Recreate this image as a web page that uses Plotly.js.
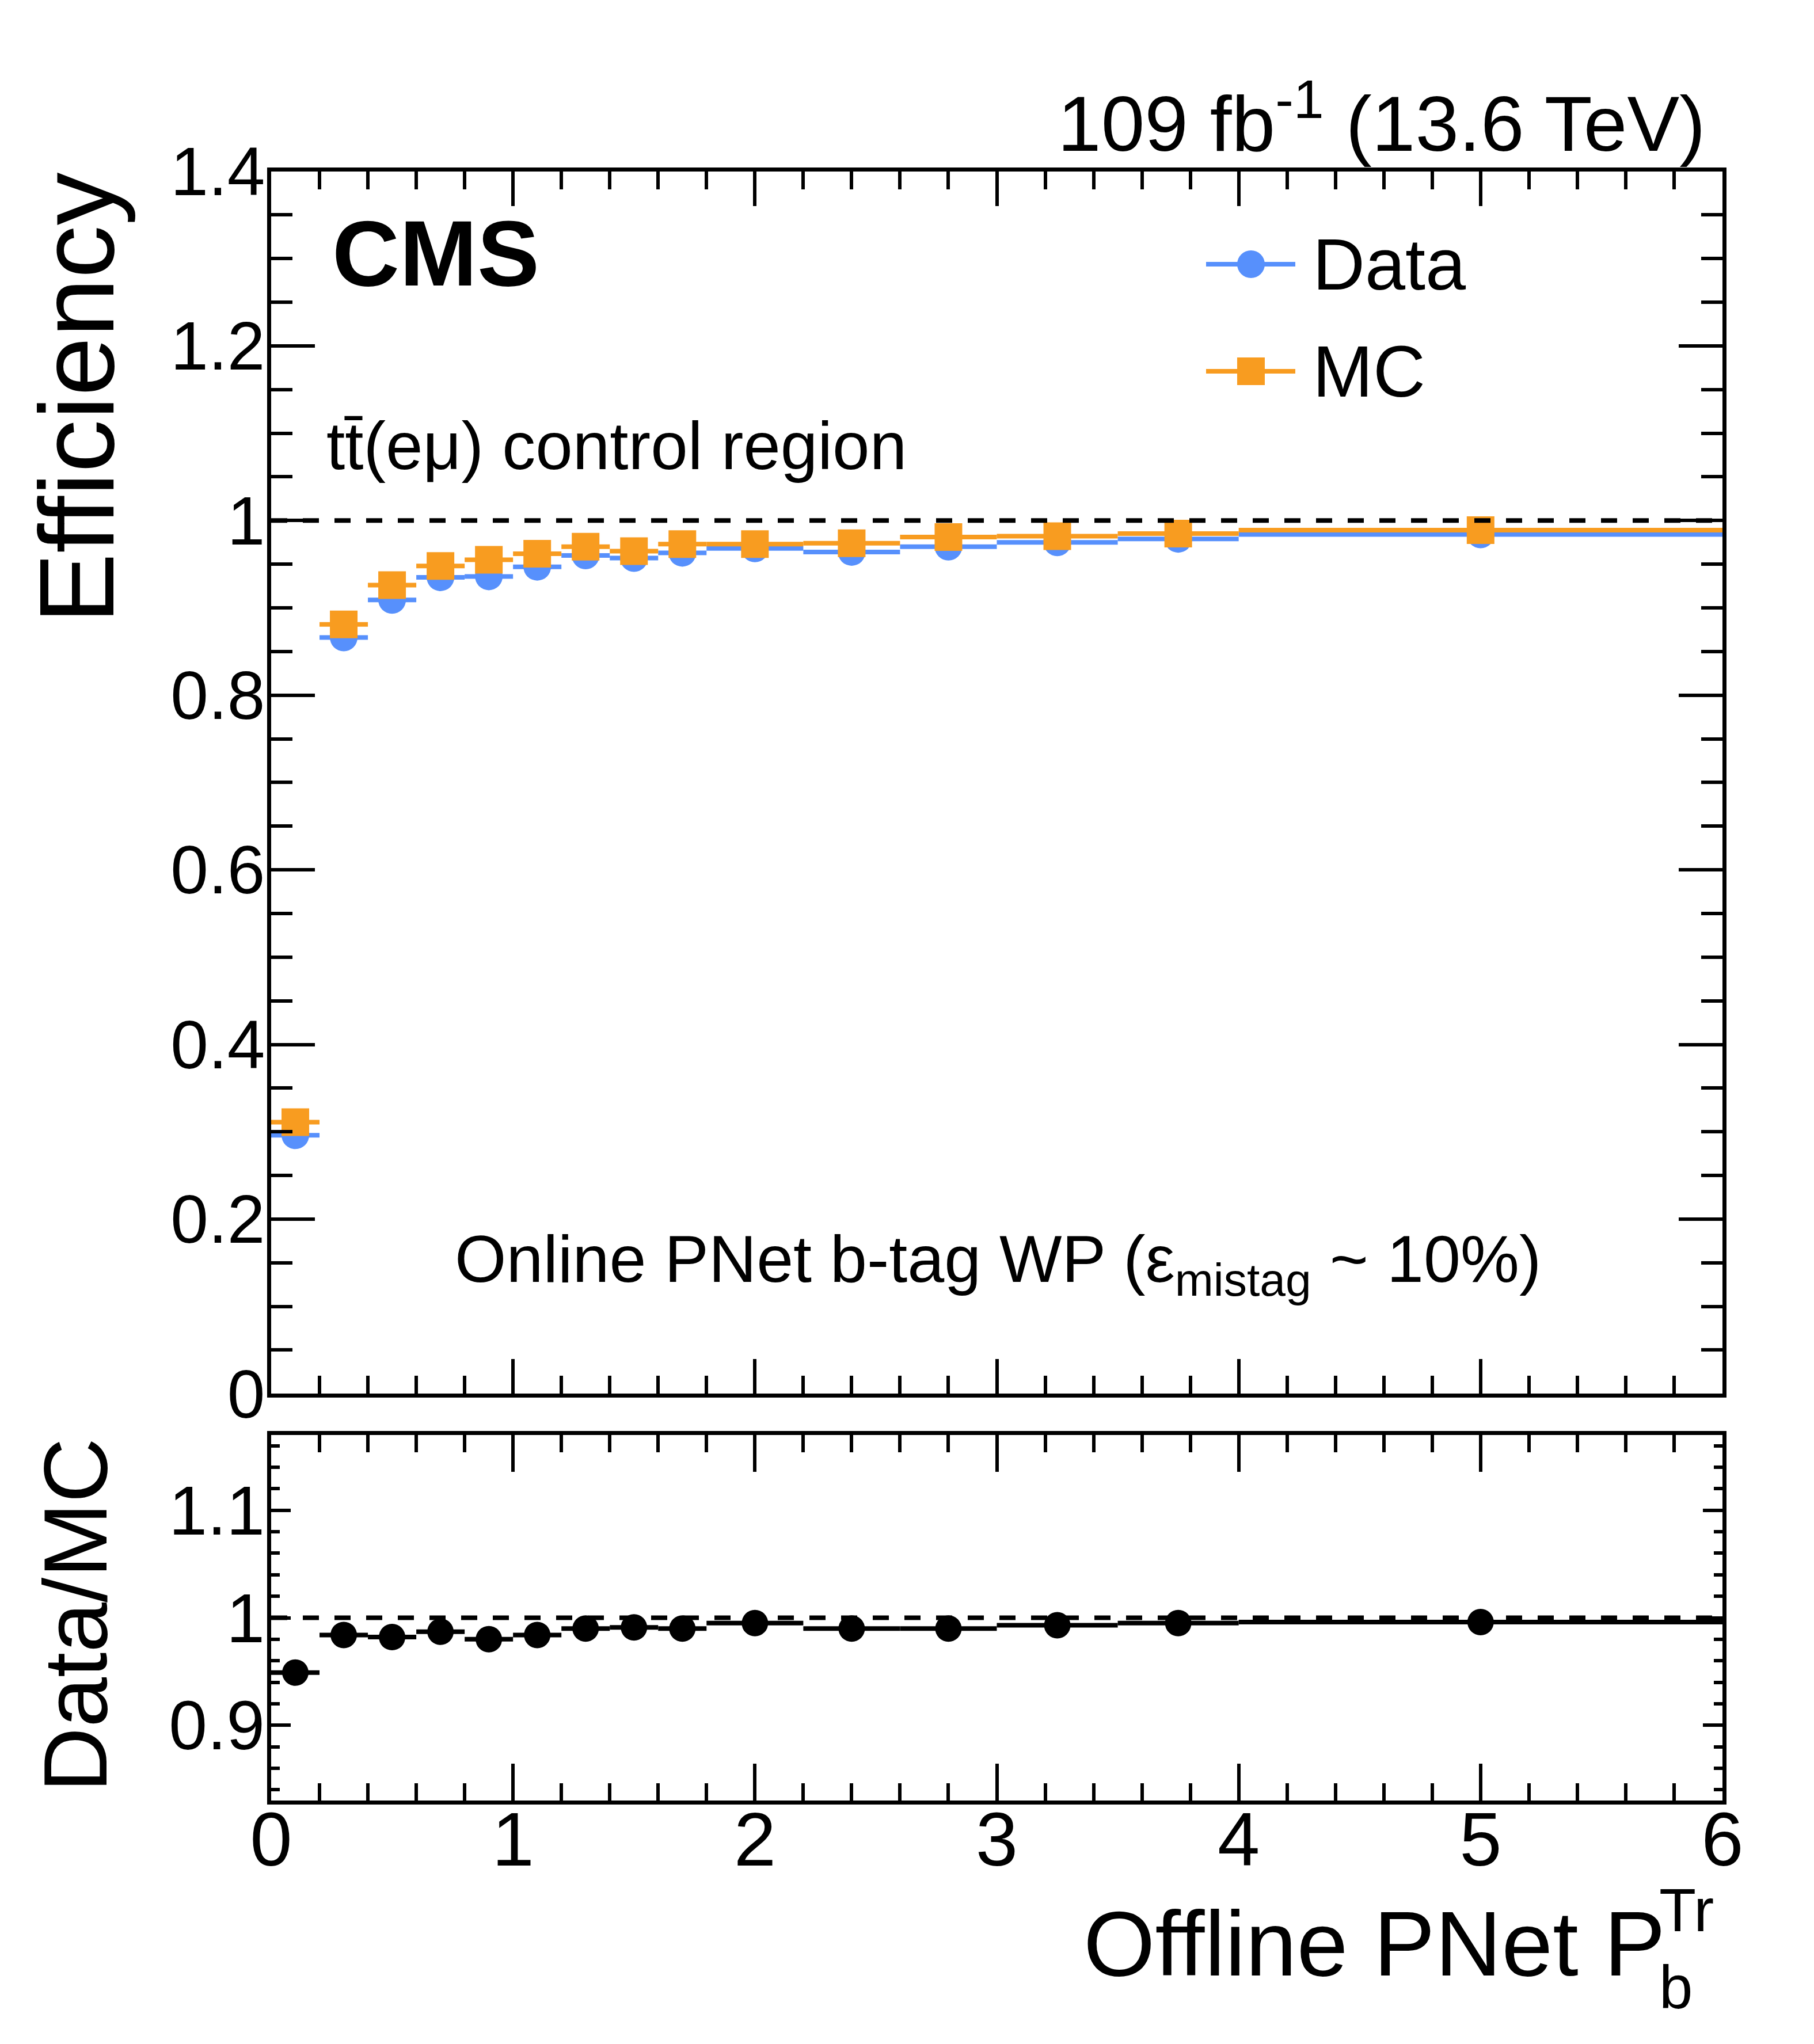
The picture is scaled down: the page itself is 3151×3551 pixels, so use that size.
<!DOCTYPE html>
<html>
<head>
<meta charset="utf-8">
<script src="https://cdn.plot.ly/plotly-3.0.1.min.js"></script>
<style>
  html, body { margin: 0; padding: 0; background: #ffffff; }
  #chart { width: 3151px; height: 3551px; }
</style>
</head>
<body>
<div id="chart"></div>
<script>
// bin edges of the offline PNet score (x axis)
const binEdges = [0, 0.2, 0.4, 0.6, 0.8, 1.0, 1.2, 1.4, 1.6, 1.8, 2.2, 2.6, 3.0, 3.5, 4.0, 6.0];

// efficiencies per bin
const effData = [0.296, 0.866, 0.909, 0.935, 0.936, 0.947, 0.960, 0.957, 0.963, 0.968, 0.964, 0.970, 0.975, 0.979, 0.984];
const effMC   = [0.311, 0.881, 0.926, 0.948, 0.955, 0.962, 0.970, 0.965, 0.973, 0.973, 0.974, 0.981, 0.982, 0.985, 0.989];

// data / MC scale factors
const ratio = [0.949, 0.984, 0.982, 0.987, 0.980, 0.984, 0.990, 0.991, 0.990, 0.995, 0.990, 0.990, 0.993, 0.995, 0.996];

const xTickVals = [0, 1, 2, 3, 4, 5, 6];
const ratioTickVals = [0.9, 1, 1.1];
const refLine = 1;

const W = 3151, H = 3551;
const px = v => v / W;          // pixel -> paper x
const py = v => 1 - v / H;      // pixel -> paper y

const blue = '#5790fc';
const orange = '#f89c20';
const font = 'Liberation Sans, Arial, Helvetica, sans-serif';

// bin centres and half widths
const centers = [];
const halfW = [];
for (let i = 0; i < binEdges.length - 1; i++) {
    centers.push((binEdges[i] + binEdges[i + 1]) / 2);
    halfW.push((binEdges[i + 1] - binEdges[i]) / 2);
}

function pointTrace(y, color, symbol, size, xa, ya, name) {
    return {
        x: centers,
        y: y,
        xaxis: xa,
        yaxis: ya,
        name: name,
        type: 'scatter',
        mode: 'markers',
        showlegend: false,
        marker: { color: color, symbol: symbol, size: size, line: { width: 0 } },
        error_x: { type: 'data', array: halfW, visible: true, color: color, thickness: 8, width: 0 },
        hoverinfo: 'skip'
    };
}

const traces = [
    pointTrace(effData, blue, 'circle', 48, 'x', 'y', 'Data'),
    pointTrace(effMC, orange, 'square', 48, 'x', 'y', 'MC'),
    pointTrace(ratio, 'black', 'circle', 46, 'x2', 'y2', 'Data/MC')
];

const axisCommon = {
    showline: true,
    linecolor: 'black',
    linewidth: 7,
    mirror: 'allticks',
    ticks: 'inside',
    tickcolor: 'black',
    tickwidth: 6,
    showgrid: false,
    zeroline: false,
    fixedrange: true
};

const xDomain = [px(471), px(2992)];

const layout = {
    width: W,
    height: H,
    margin: { l: 0, r: 0, t: 0, b: 0 },
    paper_bgcolor: 'white',
    plot_bgcolor: 'white',
    showlegend: false,
    font: { family: font, color: 'black' },
    xaxis: Object.assign({}, axisCommon, {
        domain: xDomain,
        anchor: 'y',
        range: [0, 6],
        dtick: 1,
        ticklen: 60,
        minor: { dtick: 0.2, ticklen: 31, ticks: 'inside', tickwidth: 6, tickcolor: 'black' },
        showticklabels: false
    }),
    yaxis: Object.assign({}, axisCommon, {
        domain: [py(2421.3), py(297.5)],
        anchor: 'x',
        range: [0, 1.4],
        dtick: 0.2,
        ticklen: 76,
        minor: { dtick: 0.05, ticklen: 37, ticks: 'inside', tickwidth: 6, tickcolor: 'black' },
        tickfont: { family: font, size: 118, color: 'black' },
        ticklabelstandoff: -20
    }),
    xaxis2: Object.assign({}, axisCommon, {
        domain: xDomain,
        anchor: 'y2',
        matches: 'x',
        range: [0, 6],
        tickvals: xTickVals,
        ticklen: 64,
        minor: { dtick: 0.2, ticklen: 30, ticks: 'inside', tickwidth: 6, tickcolor: 'black' },
        tickfont: { family: font, size: 132, color: 'black' },
        ticklabelstandoff: -52
    }),
    yaxis2: Object.assign({}, axisCommon, {
        domain: [py(3128), py(2493)],
        anchor: 'x2',
        range: [0.83, 1.17],
        tickvals: ratioTickVals,
        ticklen: 34,
        minor: { dtick: 0.02, ticklen: 15, ticks: 'inside', tickwidth: 6, tickcolor: 'black' },
        tickfont: { family: font, size: 120, color: 'black' },
        ticklabelstandoff: -20
    }),
    shapes: [
        { type: 'line', xref: 'x domain', yref: 'y', x0: 0, x1: 1, y0: refLine, y1: refLine,
          layer: 'above', line: { color: 'black', width: 8, dash: '28px,27px' } },
        { type: 'line', xref: 'x2 domain', yref: 'y2', x0: 0, x1: 1, y0: refLine, y1: refLine,
          layer: 'above', line: { color: 'black', width: 8, dash: '28px,27px' } },
        // legend glyphs
        { type: 'line', xref: 'paper', yref: 'paper', x0: px(2095), x1: px(2250), y0: py(459), y1: py(459),
          line: { color: blue, width: 8 } },
        { type: 'circle', xref: 'paper', yref: 'paper', x0: px(2149), x1: px(2197), y0: py(435), y1: py(483),
          fillcolor: blue, line: { width: 0 } },
        { type: 'line', xref: 'paper', yref: 'paper', x0: px(2095), x1: px(2250), y0: py(645), y1: py(645),
          line: { color: orange, width: 8 } },
        { type: 'rect', xref: 'paper', yref: 'paper', x0: px(2149), x1: px(2197), y0: py(621), y1: py(669),
          fillcolor: orange, line: { width: 0 } }
    ],
    annotations: [
        { text: '109 fb<sup>-1</sup> (13.6 TeV)', xref: 'paper', yref: 'paper',
          x: px(2965), y: py(293), xanchor: 'right', yanchor: 'bottom', showarrow: false,
          font: { family: font, size: 136, color: 'black' } },
        { text: '<b>CMS</b>', xref: 'paper', yref: 'paper',
          x: px(575), y: py(440), xanchor: 'left', yanchor: 'middle', showarrow: false,
          font: { family: font, size: 162, color: 'black' } },
        { text: 'Data', xref: 'paper', yref: 'paper',
          x: px(2278), y: py(459), xanchor: 'left', yanchor: 'middle', showarrow: false,
          font: { family: font, size: 126, color: 'black' } },
        { text: 'MC', xref: 'paper', yref: 'paper',
          x: px(2278), y: py(645), xanchor: 'left', yanchor: 'middle', showarrow: false,
          font: { family: font, size: 126, color: 'black' } },
        { text: 't\u0074\u0304(e\u03bc) control region', xref: 'paper', yref: 'paper',
          x: px(565), y: py(842), xanchor: 'left', yanchor: 'bottom', showarrow: false,
          font: { family: font, size: 116, color: 'black' } },
        { text: 'Online PNet b-tag WP (\u03b5<sub>mistag</sub> ~ 10%)', xref: 'paper', yref: 'paper',
          x: px(788), y: py(2121), xanchor: 'left', yanchor: 'top', showarrow: false,
          font: { family: font, size: 115, color: 'black' } },
        { text: 'Efficiency', xref: 'paper', yref: 'paper', textangle: -90,
          x: px(132), y: py(297.5), xanchor: 'center', yanchor: 'top', showarrow: false,
          font: { family: font, size: 184, color: 'black' } },
        { text: 'Data/MC', xref: 'paper', yref: 'paper', textangle: -90,
          x: px(130), y: py(2497), xanchor: 'center', yanchor: 'top', showarrow: false,
          font: { family: font, size: 156, color: 'black' } },
        { text: 'Offline PNet P', xref: 'paper', yref: 'paper',
          x: px(2895), y: py(3285), xanchor: 'right', yanchor: 'top', showarrow: false,
          font: { family: font, size: 160, color: 'black' } },
        { text: 'Tr', xref: 'paper', yref: 'paper',
          x: px(2880), y: py(3258), xanchor: 'left', yanchor: 'top', showarrow: false,
          font: { family: font, size: 105, color: 'black' } },
        { text: 'b', xref: 'paper', yref: 'paper',
          x: px(2880), y: py(3392), xanchor: 'left', yanchor: 'top', showarrow: false,
          font: { family: font, size: 105, color: 'black' } }
    ]
};

Plotly.newPlot('chart', traces, layout, { displayModeBar: false, staticPlot: true });
</script>
</body>
</html>
